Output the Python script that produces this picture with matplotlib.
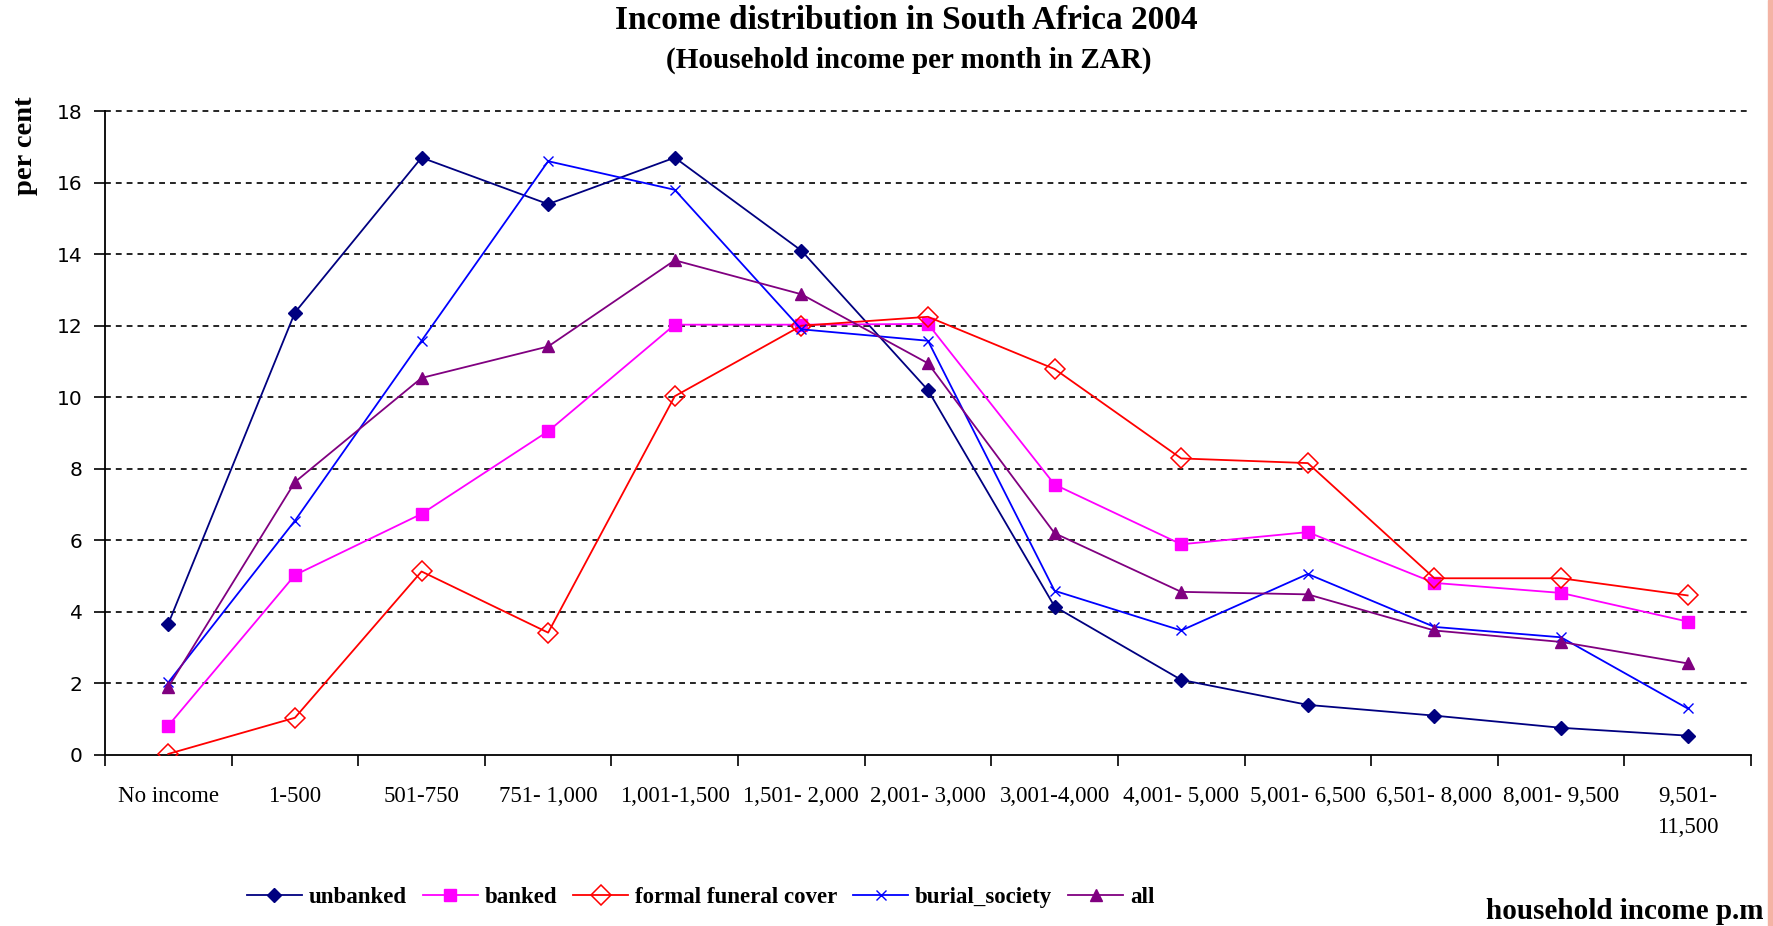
import matplotlib
matplotlib.use("Agg")
import matplotlib.pyplot as plt
from matplotlib.patches import Rectangle

categories = ["No income", "1-500", "501-750", "751- 1,000", "1,001-1,500",
              "1,501- 2,000", "2,001- 3,000", "3,001-4,000", "4,001- 5,000",
              "5,001- 6,500", "6,501- 8,000", "8,001- 9,500", "9,501-\n11,500"]

unbanked = [3.67, 12.37, 16.7, 15.4, 16.7, 14.1, 10.2, 4.15, 2.1, 1.4, 1.1, 0.76, 0.54]
banked = [0.82, 5.03, 6.74, 9.05, 12.03, 12.03, 12.05, 7.56, 5.89, 6.23, 4.81, 4.53, 3.73]
funeral = [0.03, 1.04, 5.13, 3.42, 10.03, 12.0, 12.25, 10.79, 8.29, 8.16, 4.94, 4.94, 4.46]
burial = [2.03, 6.55, 11.58, 16.6, 15.8, 11.9, 11.58, 4.59, 3.48, 5.06, 3.58, 3.29, 1.3]
all_hh = [1.9, 7.63, 10.54, 11.42, 13.83, 12.88, 10.95, 6.2, 4.56, 4.49, 3.48, 3.16, 2.56]

yticks = [0, 2, 4, 6, 8, 10, 12, 14, 16, 18]

serif = "Liberation Serif"

fig = plt.figure(figsize=(17.74, 9.26), dpi=100)
ax = fig.add_axes([0.0592, 0.1847, 0.9278, 0.6953])

x = list(range(len(categories)))
series = [
    ("unbanked", unbanked, dict(color="#000080", marker="D", markersize=7, markerfacecolor="#000080")),
    ("banked", banked, dict(color="#FF00FF", marker="s", markersize=8, markerfacecolor="#FF00FF")),
    ("formal funeral cover", funeral, dict(color="#FF0000", marker="D", markersize=10, markerfacecolor="none", markeredgewidth=1.1)),
    ("burial_society", burial, dict(color="#0000FF", marker="x", markersize=7, markeredgewidth=1.0)),
    ("all", all_hh, dict(color="#800080", marker="^", markersize=9, markerfacecolor="#800080")),
]
handles = []
for name, vals, st in series:
    h, = ax.plot(x, vals, linewidth=1.3, label=name, zorder=3, **st)
    handles.append(h)

ax.set_xlim(-0.5, len(categories) - 0.5)
ax.set_ylim(0, 18)
ax.set_yticks(yticks)
ax.set_yticklabels([str(v) for v in yticks], fontsize=14.5, family="DejaVu Sans")
for v in yticks[1:]:
    ax.axhline(v, color="black", linestyle=(0, (3.5, 3)), linewidth=1.2, zorder=1, clip_on=False)

ax.set_xticks(x)
ax.set_xticklabels(categories, family=serif, fontsize=16.5, linespacing=1.65)
ax.set_xticks([i - 0.5 for i in range(len(categories) + 1)], minor=True)
ax.tick_params(axis="x", which="major", length=0, pad=22)
ax.tick_params(axis="x", which="minor", length=8, width=1.2, direction="out")
ax.tick_params(axis="y", length=8, width=1.2, direction="out", pad=8)

for s in ["top", "right"]:
    ax.spines[s].set_visible(False)
ax.spines["left"].set_linewidth(1.3)
ax.spines["bottom"].set_linewidth(1.3)

fig.text(0.511, 0.978, "Income distribution in South Africa 2004", ha="center", va="center",
         family=serif, fontweight="bold", fontsize=24)
fig.text(0.512, 0.935, "(Household income per month in ZAR)", ha="center", va="center",
         family=serif, fontweight="bold", fontsize=21)
fig.text(0.0145, 0.843, "per cent", rotation=90, ha="center", va="center",
         family=serif, fontweight="bold", fontsize=20.5)
fig.text(0.994, 0.016, "household income p.m", ha="right", va="center",
         family=serif, fontweight="bold", fontsize=21)

fig.legend(handles=handles, loc="center", bbox_to_anchor=(0.395, 0.031), ncol=5,
           frameon=False, prop=dict(family=serif, weight="bold", size=16.5),
           handlelength=2.4, handletextpad=0.3, columnspacing=0.7)

fig.patches.append(Rectangle((0.9966, 0), 0.0034, 1, transform=fig.transFigure,
                             color="#F4B3A4", zorder=0))

fig.savefig("out.png", dpi=100)
